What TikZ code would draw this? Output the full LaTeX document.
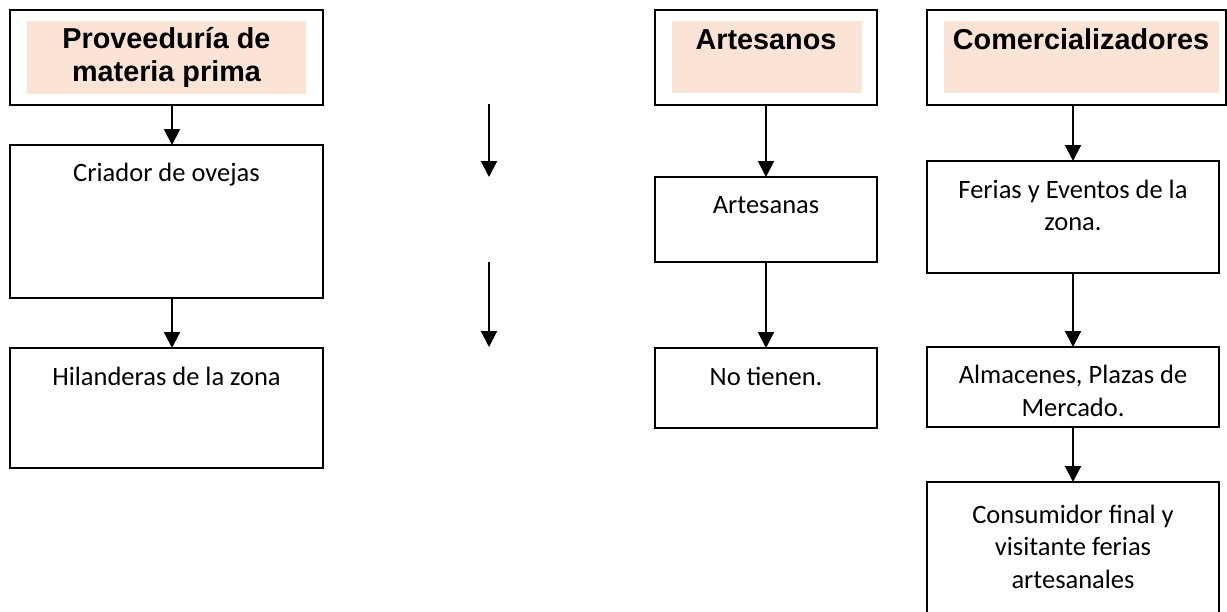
\documentclass[tikz,border=0pt]{standalone}
\usepackage{fontspec}
\setmainfont{Carlito}
\newfontfamily\hdfont{Liberation Sans}
\usetikzlibrary{arrows.meta}
\definecolor{pinkfill}{HTML}{FBE4D5}
\begin{document}
\begin{tikzpicture}[x=1pt,y=-1pt,
  hdbox/.style={draw=black,line width=1.7pt,anchor=north west,inner sep=0pt,outer sep=0pt},
  pinkbox/.style={fill=pinkfill,draw=none,anchor=north west,inner sep=0pt,outer sep=0pt},
  bodybox/.style={draw=black,line width=2.2pt,anchor=north west,inner sep=0pt,outer sep=0pt},
  hdtxt/.style={font=\hdfont\bfseries\fontsize{28.8}{33}\selectfont,align=center,inner sep=0pt,anchor=base},
  bodytxt/.style={font=\fontsize{26.5}{32.5}\selectfont,align=center,inner sep=0pt,anchor=base},
  arr/.style={line width=2pt,-{Triangle[width=16pt,length=16pt]}}
]
\clip (0,0) rectangle (1227,611);
\fill[white] (0,0) rectangle (1227,611);

% header boxes
\node[hdbox,minimum width=313pt,minimum height=95pt] (h1) at (10,10) {};
\node[pinkbox,minimum width=279pt,minimum height=73pt] (p1) at (27,21) {};
\node[hdtxt] (t1) at (166.5,81) {Proveeduría de\\materia prima};

\node[hdbox,minimum width=222pt,minimum height=95pt] (h2) at (655,10) {};
\node[pinkbox,minimum width=190pt,minimum height=72pt] (p2) at (672,21) {};
\node[hdtxt] (t2) at (766,49) {Artesanos};

\node[hdbox,minimum width=299pt,minimum height=95pt] (h3) at (927,10) {};
\node[pinkbox,minimum width=275pt,minimum height=72pt] (p3) at (944,21) {};
\node[hdtxt] (t3) at (1081,49) {Comercializadores};

% body boxes
\node[bodybox,minimum width=313pt,minimum height=153pt] (criador) at (10,145) {};
\node[bodytxt] (tcriador) at (166.5,181) {Criador de ovejas};
\node[bodybox,minimum width=313pt,minimum height=120pt] (hilan) at (10,348) {};
\node[bodytxt] (thilan) at (166.5,385) {Hilanderas de la zona};

\node[bodybox,minimum width=222pt,minimum height=85pt] (artesanas) at (655,177) {};
\node[bodytxt] (tartesanas) at (766,213) {Artesanas};
\node[bodybox,minimum width=222pt,minimum height=80pt] (notienen) at (655,348) {};
\node[bodytxt] (tnotienen) at (766,385) {No tienen.};

\node[bodybox,minimum width=292pt,minimum height=112pt] (ferias) at (927,161) {};
\node[bodytxt] (tferias) at (1073,230.5) {Ferias y Eventos de la\\zona.};
\node[bodybox,minimum width=292pt,minimum height=80pt] (almac) at (927,347) {};
\node[bodytxt] (talmac) at (1073,416) {Almacenes, Plazas de\\Mercado.};
\node[bodybox,minimum width=292pt,minimum height=150pt] (consum) at (927,482) {};
\node[bodytxt] (tconsum) at (1073,588) {Consumidor final y\\visitante ferias\\artesanales};

% connectors
\draw[arr] ([xshift=5.5pt]h1.south) -- ([xshift=5.5pt]criador.north);
\draw[arr] ([xshift=5.5pt]criador.south) -- ([xshift=5.5pt]hilan.north);
\draw[arr] (h2.south) -- (artesanas.north);
\draw[arr] (artesanas.south) -- (notienen.north);
\draw[arr] (h3.south -| ferias.north) -- (ferias.north);
\draw[arr] (ferias.south) -- (almac.north);
\draw[arr] (almac.south) -- (consum.north);

% free arrows
\coordinate (fa1) at (489,104);
\coordinate (fb1) at (489,177);
\coordinate (fa2) at (489,262);
\coordinate (fb2) at (489,347);
\draw[arr] (fa1) -- (fb1);
\draw[arr] (fa2) -- (fb2);
\end{tikzpicture}
\end{document}
